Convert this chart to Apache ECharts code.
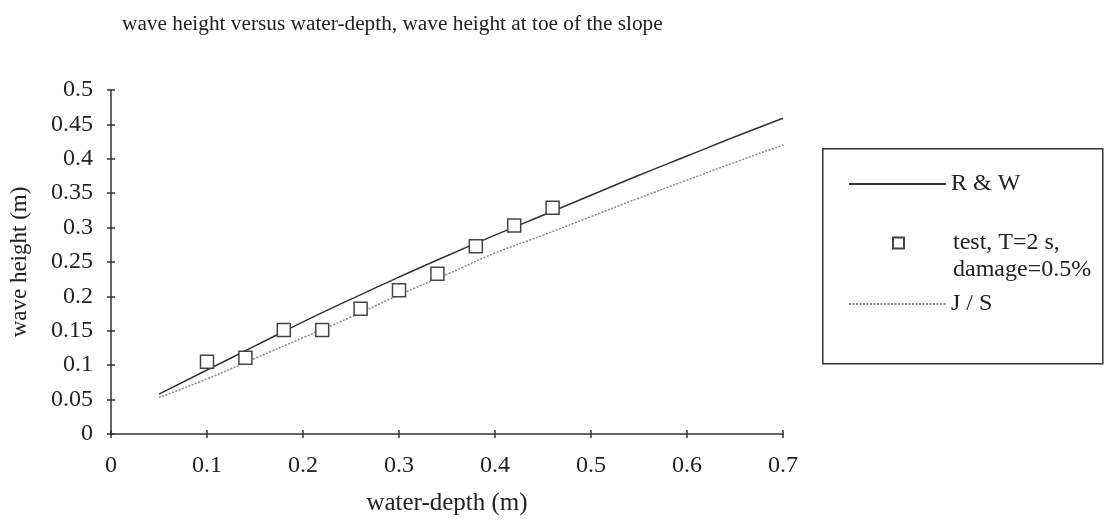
<!DOCTYPE html>
<html>
<head>
<meta charset="utf-8">
<script src="https://cdn.jsdelivr.net/npm/echarts@6/dist/echarts.min.js"></script>
<style>html,body{margin:0;padding:0;background:#fff}#c{width:1112px;height:525px}</style>
</head>
<body>
<div id="c"></div>
<script>
// Data
var testDepth  = [0.10, 0.14, 0.18, 0.22, 0.26, 0.30, 0.34, 0.38, 0.42, 0.46];
var testHeight = [0.105, 0.111, 0.151, 0.151, 0.182, 0.209, 0.233, 0.273, 0.303, 0.329];
var curveDepth = [0.05, 0.10, 0.15, 0.20, 0.25, 0.30, 0.35, 0.40, 0.45, 0.50, 0.55, 0.60, 0.65, 0.70];
var rwHeight   = [0.058, 0.093, 0.128, 0.163, 0.196, 0.228, 0.259, 0.289, 0.318, 0.347, 0.376, 0.404, 0.432, 0.459];
var jsHeight   = [0.053, 0.080, 0.110, 0.140, 0.170, 0.202, 0.232, 0.263, 0.289, 0.316, 0.343, 0.369, 0.395, 0.420];
var xTicks = [0, 0.1, 0.2, 0.3, 0.4, 0.5, 0.6, 0.7];
var yTicks = [0, 0.05, 0.1, 0.15, 0.2, 0.25, 0.3, 0.35, 0.4, 0.45, 0.5];

function pairs(xs, ys) { return xs.map(function (x, i) { return [x, ys[i]]; }); }

var FONT = 'Liberation Serif';
var FS = 24;
var AX = '#333';
var TXT = '#222';

var chart = echarts.init(document.getElementById('c'), null, {renderer: 'canvas'});
var xBase = {
  type: 'value', min: xTicks[0], max: xTicks[xTicks.length - 1], interval: 0.1,
  splitLine: {show: false}
};
var yBase = {
  type: 'value', min: yTicks[0], max: yTicks[yTicks.length - 1], interval: 0.05,
  splitLine: {show: false}
};
var hideSym = {color: 'rgba(0,0,0,0)', borderWidth: 0, borderColor: 'rgba(0,0,0,0)'};
chart.setOption({
  animation: false,
  backgroundColor: '#fff',
  textStyle: {fontFamily: FONT},
  title: {
    text: 'wave height versus water-depth, wave height at toe of the slope',
    left: 117, top: 9,
    textStyle: {fontFamily: FONT, fontSize: 21.3, fontWeight: 'normal', color: TXT}
  },
  grid: {left: 107.5, right: 329, top: 90, bottom: 91},
  xAxis: [
    Object.assign({}, xBase, {
      position: 'bottom',
      name: 'water-depth (m)', nameLocation: 'middle', nameGap: 57,
      nameTextStyle: {fontFamily: FONT, fontSize: 25, color: TXT},
      axisLine: {show: true, onZero: false, lineStyle: {color: AX, width: 1.5}},
      axisTick: {show: true, inside: false, length: 4, lineStyle: {color: AX, width: 1.5}},
      axisLabel: {margin: 20, fontFamily: FONT, fontSize: FS, color: TXT,
        formatter: function (v) { return String(+v.toFixed(2)); }}
    }),
    Object.assign({}, xBase, {
      position: 'bottom', offset: 0,
      axisLine: {show: false},
      axisTick: {show: true, inside: true, length: 4, lineStyle: {color: AX, width: 1.5}},
      axisLabel: {show: false}
    })
  ],
  yAxis: [
    Object.assign({}, yBase, {
      position: 'left',
      name: 'wave height (m)', nameLocation: 'middle', nameGap: 80, nameRotate: 90,
      nameTextStyle: {fontFamily: FONT, fontSize: 23, color: TXT},
      axisLine: {show: true, onZero: false, lineStyle: {color: AX, width: 1.5}},
      axisTick: {show: true, inside: false, length: 4, lineStyle: {color: AX, width: 1.5}},
      axisLabel: {margin: 18, fontFamily: FONT, fontSize: FS, color: TXT,
        formatter: function (v) { return String(+v.toFixed(2)); }}
    }),
    Object.assign({}, yBase, {
      position: 'left', offset: 0,
      axisLine: {show: false},
      axisTick: {show: true, inside: true, length: 4, lineStyle: {color: AX, width: 1.5}},
      axisLabel: {show: false}
    })
  ],
  legend: [
    {
      data: ['R & W'], left: 843, top: 167, orient: 'vertical',
      itemWidth: 97, itemHeight: 22, itemGap: 0,
      itemStyle: hideSym,
      textStyle: {fontFamily: FONT, fontSize: FS, color: TXT},
      selectedMode: false
    },
    {
      data: [{name: 'test, T=2 s,', icon: 'rect'}], left: 887, top: 226, orient: 'vertical',
      itemWidth: 11, itemHeight: 11, itemGap: 0,
      textStyle: {fontFamily: FONT, fontSize: FS, color: TXT, padding: [0, 0, 0, 44]},
      selectedMode: false
    },
    {
      data: ['J / S'], left: 843, top: 287, orient: 'vertical',
      itemWidth: 97, itemHeight: 22, itemGap: 0,
      itemStyle: hideSym,
      textStyle: {fontFamily: FONT, fontSize: FS, color: TXT},
      selectedMode: false
    }
  ],
  graphic: [
    {type: 'rect', left: 822, top: 148, z: 0,
      shape: {width: 280, height: 215},
      style: {fill: 'rgba(0,0,0,0)', stroke: '#333', lineWidth: 1.5}},
    {type: 'text', left: 953, top: 258, z: 5,
      style: {text: 'damage=0.5%', fontFamily: FONT, fontSize: FS, fill: TXT}}
  ],
  series: [
    {
      name: 'R & W', type: 'line', data: pairs(curveDepth, rwHeight),
      symbol: 'none', smooth: true,
      lineStyle: {color: '#333', width: 1.5, type: 'solid'},
      itemStyle: {color: '#333'},
      z: 2
    },
    {
      name: 'J / S', type: 'line', data: pairs(curveDepth, jsHeight),
      symbol: 'none', smooth: true,
      lineStyle: {color: '#888', width: 1.5, type: [2, 1.5]},
      itemStyle: {color: '#888'},
      z: 2
    },
    {
      name: 'test, T=2 s,', type: 'scatter', data: pairs(testDepth, testHeight),
      symbol: 'rect', symbolSize: 13,
      itemStyle: {color: '#fff', borderColor: '#444', borderWidth: 1.5, opacity: 1},
      z: 3
    }
  ]
});
</script>
</body>
</html>
